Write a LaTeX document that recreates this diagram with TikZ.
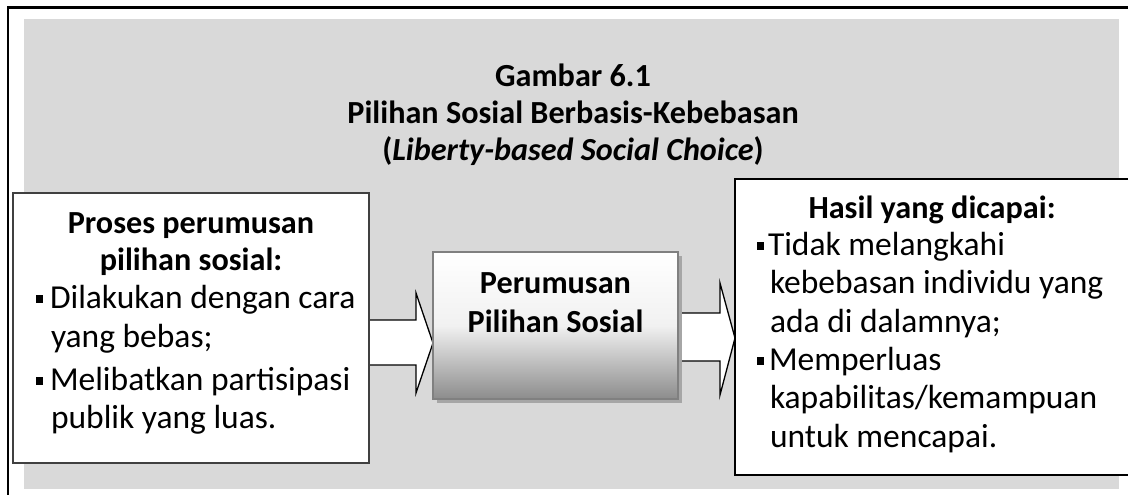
\documentclass[tikz,border=0pt]{standalone}
\usepackage{fontspec}
\setmainfont{Carlito}
\definecolor{bggray}{HTML}{D9D9D9}
\definecolor{midborder}{HTML}{808080}
\definecolor{midbottom}{HTML}{8C8C8C}
\definecolor{shadowgray}{HTML}{A6A6A6}
\definecolor{leftborder}{HTML}{404040}
\tikzset{
  txt/.style={inner sep=0pt, outer sep=0pt, anchor=base, font=\fontsize{32.2}{37}\selectfont\bfseries},
  txtl/.style={inner sep=0pt, outer sep=0pt, anchor=base west, font=\fontsize{33.5}{37}\selectfont},
  boxnode/.style={rectangle, inner sep=0pt, outer sep=0pt, fill=white},
  blockarrow/.style={draw=black, fill=white, line width=1.3pt, line join=miter},
  bulletsq/.style={fill=black, draw=none},
}
\begin{document}
\begin{tikzpicture}[x=1pt,y=-1pt]
\useasboundingbox (0,0) rectangle (1128,495);
\clip (0,0) rectangle (1128,495);
% outer frame (partially visible)
\draw[line width=2.5pt] (8,495) -- (8,7.5) -- (1130,7.5);
% gray background
\fill[bggray] (24,19) rectangle (1119,489);
% title
\node[txt] (t1) at (573,87) {Gambar 6.1};
\node[txt] (t2) at (573,123) {Pilihan Sosial Berbasis-Kebebasan};
\node[txt] (t3) at (573,160) {(\textit{Liberty-based Social Choice})};
% block arrows
\draw[blockarrow] (365,320) -- (416,320) -- (416,293) -- (433,343) -- (416,393) -- (416,365) -- (365,365) -- cycle;
\draw[blockarrow] (676,313) -- (720,313) -- (720,283) -- (735,338) -- (720,395) -- (720,361) -- (676,361) -- cycle;
% left box
\node[boxnode, draw=leftborder, line width=2pt, minimum width=356, minimum height=270] (L) at (191,328) {};
% right box
\node[boxnode, draw=black, line width=2pt, minimum width=400, minimum height=296] (R) at (935,327) {};
% middle box with shadow and gradient
\fill[shadowgray] (437,256) rectangle (682,403);
\node[rectangle, inner sep=0pt, outer sep=0pt, minimum width=245, minimum height=147,
      top color=white, bottom color=midbottom, middle color=white!88!midbottom,
      draw=midborder, line width=2pt] (M) at (555.5,325.5) {};
\node[txt] (m1) at (555.5,293) {Perumusan};
\node[txt] (m2) at (555.5,332) {Pilihan Sosial};
% left box text
\node[txt] (l1) at (191,233) {Proses perumusan};
\node[txt] (l2) at (191,270.5) {pilihan sosial:};
\fill[bulletsq] (36,295) rectangle (43,303);
\node[txtl] (l3) at (50,308) {Dilakukan dengan cara};
\node[txtl] (l4) at (51,347) {yang bebas;};
\fill[bulletsq] (36,377) rectangle (43,385);
\node[txtl] (l5) at (50,390) {Melibatkan partisipasi};
\node[txtl] (l6) at (51,428) {publik yang luas.};
% right box text
\node[txt] (r1) at (932,218) {Hasil yang dicapai:};
\fill[bulletsq] (757,242) rectangle (764,250);
\node[txtl] (r2) at (768,255) {Tidak melangkahi};
\node[txtl] (r3) at (770,293) {kebebasan individu yang};
\node[txtl] (r4) at (770,332) {ada di dalamnya;};
\fill[bulletsq] (757,357) rectangle (764,365);
\node[txtl] (r5) at (769,370) {Memperluas};
\node[txtl] (r6) at (770,408) {kapabilitas/kemampuan};
\node[txtl] (r7) at (770,447) {untuk mencapai.};
\end{tikzpicture}
\end{document}
